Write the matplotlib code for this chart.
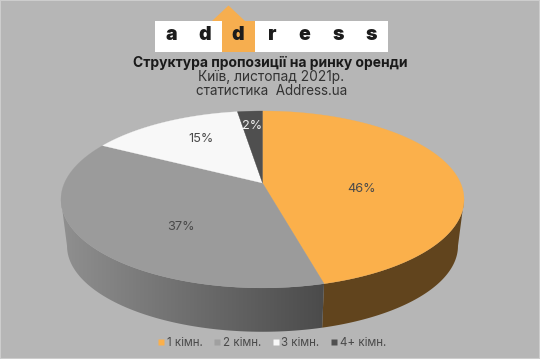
import numpy as np
import matplotlib
matplotlib.use("Agg")
import matplotlib.pyplot as plt
from matplotlib.patches import Polygon, Rectangle

categories = ["1 кімн.", "2 кімн.", "3 кімн.", "4+ кімн."]
shares = [45.9, 37.0, 14.7, 2.4]
pct_labels = ["46%", "37%", "15%", "2%"]
colors = ["#fbb04b", "#9b9b9b", "#f8f8f8", "#4f4f4f"]
title_lines = ["Структура пропозиції на ринку оренди", "Київ, листопад 2021р.", "статистика  Address.ua"]
logo_letters = list("address")

BG = "#b6b6b6"
TXT = "#4a4a4a"
FONT = "Inter"
CX, CY = 262.5, 183.0
A, B, K = 85.4, 198.0, 0.186
SIDE_SCALE, SIDE_DROP = 0.97, 47.0


def project(theta, r=1.0, side=False):
    x, y = r * np.sin(theta), r * np.cos(theta)
    w = 1 + K * y
    X, Y = B * x / w, A * y / w
    if side:
        return CX + SIDE_SCALE * X, CY - SIDE_SCALE * Y + SIDE_DROP
    return CX + X, CY - Y


fig = plt.figure(figsize=(5.4, 3.59), dpi=100, facecolor=BG)
ax = fig.add_axes([0, 0, 1, 1])
ax.set_xlim(0, 540)
ax.set_ylim(359, 0)
ax.axis("off")

edges = 2 * np.pi * np.concatenate([[0], np.cumsum(shares)]) / sum(shares)

# thin pale frame around the picture
ax.add_patch(Rectangle((0, 0), 540, 359, facecolor="none", edgecolor="#cdcdcd", linewidth=1.5, zorder=1))

# side wall: visible between the two silhouette angles of the projected rim
start = np.arccos(-K)
stop = 2 * np.pi - start


def shade(x):
    return np.interp(x, [65, 325], [0.92, 0.48])


for i, (e0, e1) in enumerate(zip(edges[:-1], edges[1:])):
    t0, t1 = max(e0, start), min(e1, stop)
    if t1 <= t0:
        continue
    th = np.linspace(t0, t1, 200)
    tx, ty = project(th)
    bx, by = project(th, side=True)
    pts = np.vstack([np.column_stack([tx, ty]), np.column_stack([bx, by])[::-1]])
    rgb = np.array(matplotlib.colors.to_rgb(colors[i]))
    xs = np.arange(40, 480, 1.0)
    f = np.full_like(xs, 0.39) if i == 0 else shade(xs)
    img = (f[None, :, None] * rgb[None, None, :]).clip(0, 1)
    poly = Polygon(pts, closed=True, facecolor="none", edgecolor="none", zorder=2)
    ax.add_patch(poly)
    im = ax.imshow(img, extent=(40, 480, 359, 0), aspect="auto", zorder=2, interpolation="bilinear")
    im.set_clip_path(poly)
ax.set_xlim(0, 540)
ax.set_ylim(359, 0)

# top face
for i, c in enumerate(colors):
    th = np.linspace(edges[i], edges[i + 1], 200)
    px, py = project(th)
    pts = np.vstack([[CX, CY], np.column_stack([px, py])])
    ax.add_patch(Polygon(pts, closed=True, facecolor=c, edgecolor=c, linewidth=0.2, zorder=3))

# value labels
label_xy = [(362, 189), (181, 227), (201, 139), (252, 126)]
label_col = [TXT, TXT, TXT, "#f0f0f0"]
for s, (lx, ly), lc in zip(pct_labels, label_xy, label_col):
    ax.text(lx, ly, s, ha="center", va="center", fontsize=9.2, color=lc, family=FONT, zorder=4)

# logo
ax.add_patch(Rectangle((155, 20.5), 233, 31.5, facecolor="white", edgecolor="none", zorder=2))
ax.add_patch(Rectangle((222, 20.5), 32.5, 31.5, facecolor="#f6ae4f", edgecolor="none", zorder=3))
ax.add_patch(Polygon([(212, 21), (228.5, 5.5), (245, 21)], closed=True, facecolor="#f6ae4f", edgecolor="none", zorder=3))
for s, lx in zip(logo_letters, [171.5, 205, 238, 272, 304.5, 338, 371]):
    ax.text(lx, 35.5, s, ha="center", va="center", fontsize=14, fontweight="black", color="#1c1c1c", family=FONT, zorder=4)

# titles
ax.text(270, 62.5, title_lines[0], ha="center", va="center", fontsize=10, fontweight="bold", color="#1a1a1a", family=FONT)
ax.text(271, 77.5, title_lines[1], ha="center", va="center", fontsize=9.9, color="#333333", family=FONT)
ax.text(272, 91, title_lines[2], ha="center", va="center", fontsize=9.7, color="#333333", family=FONT)

# legend
handles = [plt.Line2D([], [], ls="", marker="s", ms=4.6, mfc=c, mec="none") for c in colors]
handles[1] = plt.Line2D([], [], ls="", marker="s", ms=4.6, mfc="#a0a0a0", mec="none")
ax.legend(handles, categories, loc="center", bbox_to_anchor=(272 / 540, 1 - 343 / 359), ncols=4, frameon=False,
          prop={"family": FONT, "size": 8.3}, labelcolor=TXT, handlelength=0.55, handletextpad=0.2, columnspacing=1.0,
          borderpad=0, borderaxespad=0)

fig.savefig("out.png", dpi=100, facecolor=BG)
